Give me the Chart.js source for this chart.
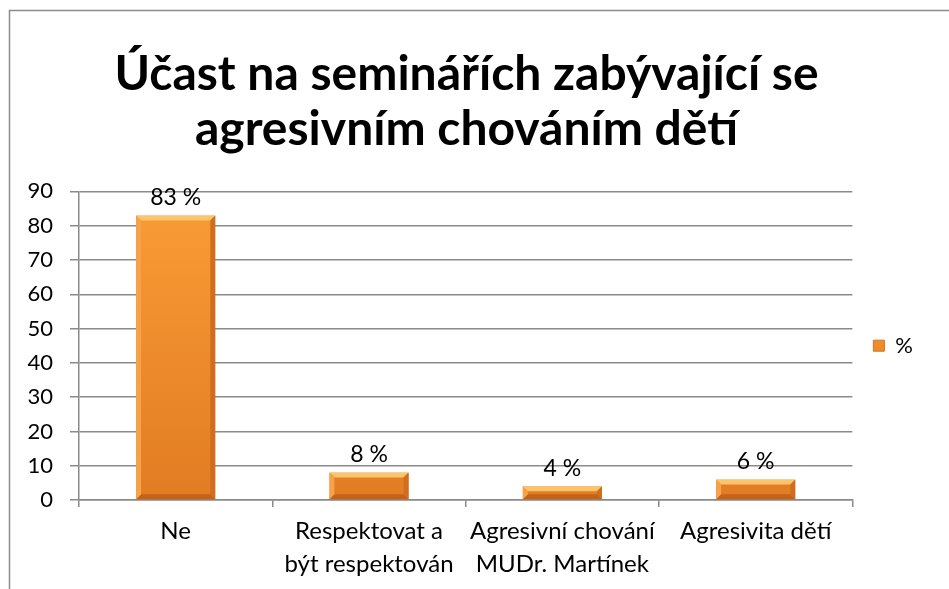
<!DOCTYPE html>
<html>
<head>
<meta charset="utf-8">
<script src="https://cdn.jsdelivr.net/npm/chart.js@4"></script>
<style>
  html, body { margin: 0; padding: 0; background: #fff; }
  #wrap { width: 949px; height: 589px; }
</style>
</head>
<body>
<div id="wrap"><canvas id="barChart"></canvas></div>
<script>
'use strict'

var categories = [
  "Ne",
  ["Respektovat a", "být respektován"],
  ["Agresivní chování", "MUDr. Martínek"],
  "Agresivita dětí"
];
var seriesName = "%";
var percentValues = [83, 8, 4, 6];
var yTicks = [0, 10, 20, 30, 40, 50, 60, 70, 80, 90];
var titleLines = ["Účast na seminářích zabývající se", "agresivním chováním dětí"];

var gridGray = "#8a8a8a";
var fontFamily = "Lato, 'Open Sans', sans-serif";

function faceGradient(context) {
  var chart = context.chart;
  var area = chart.chartArea;
  if (!area) return "#f79646";
  var g = chart.ctx.createLinearGradient(0, area.top, 0, area.bottom);
  g.addColorStop(0, "#fa9d36");
  g.addColorStop(1, "#e27c23");
  return g;
}

// outer frame of the chart
var framePlugin = {
  id: 'frame',
  beforeDraw: function(chart) {
    var ctx = chart.ctx;
    ctx.save();
    ctx.strokeStyle = "#8c8c8c";
    ctx.lineWidth = 1.5;
    ctx.strokeRect(9.5, 10.5, 1200, 1200);
    ctx.restore();
  }
};

// bevel edges and value labels on top of the bars
var bevelPlugin = {
  id: 'bevel',
  afterDatasetsDraw: function(chart) {
    var ctx = chart.ctx;
    var meta = chart.getDatasetMeta(0);
    ctx.save();
    meta.data.forEach(function(bar, i) {
      var left = bar.x - bar.width / 2;
      var right = bar.x + bar.width / 2;
      var top = bar.y;
      var bottom = bar.base;
      var b = Math.min(5, (bottom - top) / 2);
      ctx.fillStyle = "#fdc46c";
      ctx.beginPath();
      ctx.moveTo(left, top); ctx.lineTo(right, top);
      ctx.lineTo(right - b, top + b); ctx.lineTo(left + b, top + b);
      ctx.closePath(); ctx.fill();
      ctx.fillStyle = "#c4621a";
      ctx.beginPath();
      ctx.moveTo(left, bottom); ctx.lineTo(right, bottom);
      ctx.lineTo(right - b, bottom - b); ctx.lineTo(left + b, bottom - b);
      ctx.closePath(); ctx.fill();
      ctx.fillStyle = "#f7a248";
      ctx.beginPath();
      ctx.moveTo(left, top); ctx.lineTo(left + b, top + b);
      ctx.lineTo(left + b, bottom - b); ctx.lineTo(left, bottom);
      ctx.closePath(); ctx.fill();
      ctx.fillStyle = "#cf6e1e";
      ctx.beginPath();
      ctx.moveTo(right, top); ctx.lineTo(right - b, top + b);
      ctx.lineTo(right - b, bottom - b); ctx.lineTo(right, bottom);
      ctx.closePath(); ctx.fill();

      ctx.fillStyle = "#000";
      ctx.font = "23px " + fontFamily;
      ctx.textAlign = "center";
      ctx.textBaseline = "middle";
      ctx.fillText(percentValues[i] + " %", bar.x, top - 18);
    });
    ctx.restore();
  }
};

const ctx = document.getElementById('barChart').getContext('2d');
const barChart = new Chart(ctx, {
  type: 'bar',
  data: {
    labels: categories,
    datasets: [{
      label: seriesName,
      data: percentValues,
      backgroundColor: faceGradient,
      borderColor: "#d4731f",
      borderWidth: 1,
      barPercentage: 0.41,
      categoryPercentage: 1
    }]
  },
  plugins: [framePlugin, bevelPlugin],
  options: {
    responsive: true,
    maintainAspectRatio: false,
    animation: false,
    layout: {
      padding: { left: 10, right: 26, top: 20, bottom: 0 }
    },
    plugins: {
      title: {
        display: true,
        text: titleLines,
        color: "#000",
        font: { family: fontFamily, size: 48, weight: 'bold', lineHeight: 1.15 },
        padding: { top: 27, bottom: 34 }
      },
      legend: {
        position: 'right',
        fullSize: false,
        labels: {
          color: "#000",
          boxWidth: 11,
          boxHeight: 11,
          padding: 21,
          font: { family: fontFamily, size: 22 }
        }
      },
      tooltip: { enabled: false }
    },
    scales: {
      x: {
        offset: true,
        grid: {
          offset: true,
          drawOnChartArea: false,
          drawTicks: true,
          tickLength: 7,
          color: gridGray,
          lineWidth: 1.5
        },
        border: { display: true, color: gridGray, width: 1.5 },
        ticks: {
          color: "#000",
          padding: 8,
          maxRotation: 0,
          autoSkip: false,
          font: { family: fontFamily, size: 24, lineHeight: 1.375 }
        }
      },
      y: {
        min: 0,
        max: 90,
        afterBuildTicks: function(axis) {
          axis.ticks = yTicks.map(function(v) { return { value: v }; });
        },
        afterFit: function(axis) {
          axis.width = 69;
        },
        grid: {
          color: gridGray,
          lineWidth: 1.5,
          tickLength: 9
        },
        border: { display: true, color: gridGray, width: 1.5 },
        ticks: {
          color: "#000",
          padding: 17,
          font: { family: fontFamily, size: 22 }
        }
      }
    }
  }
});
</script>
</body>
</html>
